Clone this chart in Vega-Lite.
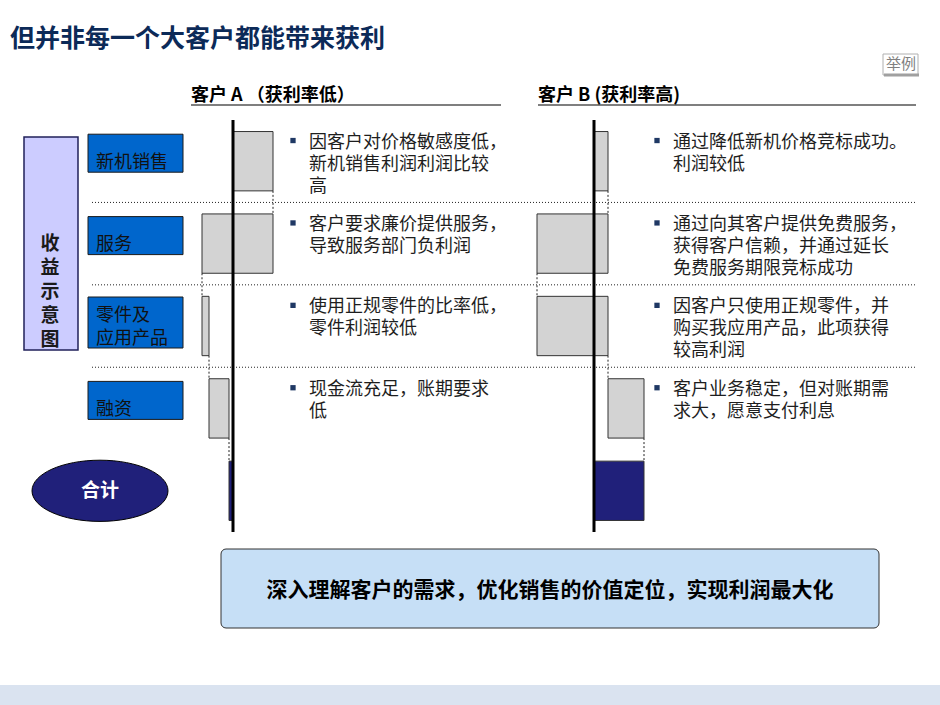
{
  "$schema": "https://vega.github.io/schema/vega-lite/v6.json",
  "width": 940,
  "height": 705,
  "autosize": {"type": "none"},
  "padding": 0,
  "background": "white",
  "config": {"view": {"stroke": null}, "font": "Noto Sans CJK SC", "text": {"font": "Noto Sans CJK SC"}},
  "datasets": {
    "rows": [
      {"item": "新机销售", "label": ["新机销售"]},
      {"item": "服务", "label": ["服务"]},
      {"item": "零件及应用产品", "label": ["零件及", "应用产品"]},
      {"item": "融资", "label": ["融资"]},
      {"item": "合计", "label": ["合计"]}
    ],
    "steps": [
      {"customer": "A", "item": "新机销售", "start": 0, "end": 40, "next": "服务", "kind": "step", "note": ["因客户对价格敏感度低，", "新机销售利润利润比较", "高"]},
      {"customer": "A", "item": "服务", "start": 40, "end": -31, "next": "零件及应用产品", "kind": "step", "note": ["客户要求廉价提供服务，", "导致服务部门负利润"]},
      {"customer": "A", "item": "零件及应用产品", "start": -31, "end": -24, "next": "融资", "kind": "step", "note": ["使用正规零件的比率低，", "零件利润较低"]},
      {"customer": "A", "item": "融资", "start": -24, "end": -4, "next": "合计", "kind": "step", "note": ["现金流充足，账期要求", "低"]},
      {"customer": "A", "item": "合计", "start": 0, "end": -4, "next": null, "kind": "total", "note": null},
      {"customer": "B", "item": "新机销售", "start": 0, "end": 14, "next": "服务", "kind": "step", "note": ["通过降低新机价格竞标成功。", "利润较低"]},
      {"customer": "B", "item": "服务", "start": 14, "end": -57, "next": "零件及应用产品", "kind": "step", "note": ["通过向其客户提供免费服务，", "获得客户信赖，并通过延长", "免费服务期限竞标成功"]},
      {"customer": "B", "item": "零件及应用产品", "start": -57, "end": 14, "next": "融资", "kind": "step", "note": ["因客户只使用正规零件，并", "购买我应用产品，此项获得", "较高利润"]},
      {"customer": "B", "item": "融资", "start": 14, "end": 50, "next": "合计", "kind": "step", "note": ["客户业务稳定，但对账期需", "求大，愿意支付利息"]},
      {"customer": "B", "item": "合计", "start": 0, "end": 50, "next": null, "kind": "total", "note": null}
    ]
  },
  "resolve": {"scale": {"x": "independent", "y": "shared", "color": "shared"}},
  "layer": [
    {
      "data": {"values": [{}]},
      "mark": {"type": "rect", "color": "#DAE3F0"},
      "encoding": {"x": {"value": 0}, "x2": {"value": 940}, "y": {"value": 685}, "y2": {"value": 705}}
    },
    {
      "data": {"values": [{}]},
      "mark": {"type": "text", "text": "但并非每一个大客户都能带来获利", "align": "left", "baseline": "middle", "fontSize": 25, "fontWeight": "bold", "color": "#0C2A58"},
      "encoding": {"x": {"value": 10}, "y": {"value": 39}}
    },
    {
      "data": {"values": [{}]},
      "mark": {"type": "rect", "fill": "white", "stroke": "#B0B0B0", "strokeWidth": 1},
      "encoding": {"x": {"value": 883}, "x2": {"value": 918}, "y": {"value": 54}, "y2": {"value": 75}}
    },
    {
      "data": {"values": [{}]},
      "mark": {"type": "rule", "color": "#A0A0A0", "strokeWidth": 3},
      "encoding": {"x": {"value": 884}, "x2": {"value": 919}, "y": {"value": 75}}
    },
    {
      "data": {"values": [{}]},
      "mark": {"type": "text", "text": "举例", "align": "center", "baseline": "middle", "fontSize": 15, "color": "#7F7F7F"},
      "encoding": {"x": {"value": 901}, "y": {"value": 64}}
    },
    {
      "data": {"values": [{}]},
      "mark": {"type": "text", "text": "客户 A （获利率低）", "align": "left", "baseline": "middle", "fontSize": 18, "fontWeight": "bold", "color": "#000000"},
      "encoding": {"x": {"value": 191}, "y": {"value": 96}}
    },
    {
      "data": {"values": [{}]},
      "mark": {"type": "rule", "color": "#000000", "strokeWidth": 1.2},
      "encoding": {"x": {"value": 191}, "x2": {"value": 501}, "y": {"value": 105}}
    },
    {
      "data": {"values": [{}]},
      "mark": {"type": "text", "text": "客户 B (获利率高)", "align": "left", "baseline": "middle", "fontSize": 18, "fontWeight": "bold", "color": "#000000"},
      "encoding": {"x": {"value": 538}, "y": {"value": 96}}
    },
    {
      "data": {"values": [{}]},
      "mark": {"type": "rule", "color": "#000000", "strokeWidth": 1.2},
      "encoding": {"x": {"value": 538}, "x2": {"value": 916}, "y": {"value": 105}}
    },
    {
      "data": {"values": [{}]},
      "mark": {"type": "rect", "fill": "#CCCCFF", "stroke": "#20205A", "strokeWidth": 1.5},
      "encoding": {"x": {"value": 24}, "x2": {"value": 78}, "y": {"value": 137}, "y2": {"value": 350}}
    },
    {
      "data": {"values": [{}]},
      "mark": {"type": "text", "text": ["收", "益", "示", "意", "图"], "align": "center", "baseline": "middle", "fontSize": 19, "fontWeight": "bold", "lineHeight": 24, "color": "#1A1A1A"},
      "encoding": {"x": {"value": 50}, "y": {"value": 244}}
    },
    {
      "data": {"name": "rows"},
      "transform": [{"filter": "datum.item === '新机销售' || datum.item === '服务' || datum.item === '融资'"}],
      "mark": {"type": "bar", "fill": "#0066CC", "stroke": "#1A1A1A", "strokeWidth": 1, "height": 38, "yOffset": -8},
      "encoding": {
        "x": {"value": 88}, "x2": {"value": 183},
        "y": {"field": "item", "type": "nominal", "axis": null, "scale": {"type": "band", "domain": ["新机销售", "服务", "零件及应用产品", "融资", "合计"], "range": [120, 532], "paddingInner": 0.28, "paddingOuter": 0.14}}
      }
    },
    {
      "data": {"name": "rows"},
      "transform": [{"filter": "datum.item === '零件及应用产品'"}],
      "mark": {"type": "bar", "fill": "#0066CC", "stroke": "#1A1A1A", "strokeWidth": 1, "height": 51, "yOffset": -3.5},
      "encoding": {
        "x": {"value": 88}, "x2": {"value": 183},
        "y": {"field": "item", "type": "nominal", "axis": null, "scale": {"type": "band", "domain": ["新机销售", "服务", "零件及应用产品", "融资", "合计"], "range": [120, 532], "paddingInner": 0.28, "paddingOuter": 0.14}}
      }
    },
    {
      "data": {"name": "rows"},
      "transform": [{"filter": "datum.item === '新机销售' || datum.item === '服务' || datum.item === '融资'"}],
      "mark": {"type": "text", "align": "left", "baseline": "middle", "fontSize": 18, "lineHeight": 23, "color": "#111111", "yOffset": 1.5},
      "encoding": {
        "x": {"value": 96},
        "y": {"field": "item", "type": "nominal", "axis": null, "scale": {"type": "band", "domain": ["新机销售", "服务", "零件及应用产品", "融资", "合计"], "range": [120, 532], "paddingInner": 0.28, "paddingOuter": 0.14}},
        "text": {"field": "label"}
      }
    },
    {
      "data": {"name": "rows"},
      "transform": [{"filter": "datum.item === '零件及应用产品'"}],
      "mark": {"type": "text", "align": "left", "baseline": "middle", "fontSize": 18, "lineHeight": 23, "color": "#111111", "yOffset": -10},
      "encoding": {
        "x": {"value": 96},
        "y": {"field": "item", "type": "nominal", "axis": null, "scale": {"type": "band", "domain": ["新机销售", "服务", "零件及应用产品", "融资", "合计"], "range": [120, 532], "paddingInner": 0.28, "paddingOuter": 0.14}},
        "text": {"field": "label"}
      }
    },
    {
      "data": {"name": "rows"},
      "transform": [{"filter": "datum.item === '合计'"}],
      "mark": {"type": "point", "shape": "M -1 0 A 1 0.45 0 1 0 1 0 A 1 0.45 0 1 0 -1 0 Z", "size": 18496, "filled": true, "fill": "#20207A", "stroke": "#000000", "strokeWidth": 1, "opacity": 1},
      "encoding": {
        "x": {"value": 100},
        "y": {"field": "item", "type": "nominal", "axis": null, "scale": {"type": "band", "domain": ["新机销售", "服务", "零件及应用产品", "融资", "合计"], "range": [120, 532], "paddingInner": 0.28, "paddingOuter": 0.14}}
      }
    },
    {
      "data": {"name": "rows"},
      "transform": [{"filter": "datum.item === '合计'"}],
      "mark": {"type": "text", "align": "center", "baseline": "middle", "fontSize": 19, "fontWeight": "bold", "color": "#FFFFFF"},
      "encoding": {
        "x": {"value": 100},
        "y": {"field": "item", "type": "nominal", "axis": null, "scale": {"type": "band", "domain": ["新机销售", "服务", "零件及应用产品", "融资", "合计"], "range": [120, 532], "paddingInner": 0.28, "paddingOuter": 0.14}},
        "text": {"field": "label"}
      }
    },
    {
      "data": {"name": "rows"},
      "transform": [{"filter": "datum.item === '服务' || datum.item === '零件及应用产品' || datum.item === '融资'"}],
      "mark": {"type": "rule", "color": "#222222", "strokeWidth": 1, "strokeDash": [1, 2], "yOffset": -11.5},
      "encoding": {
        "x": {"value": 92}, "x2": {"value": 915},
        "y": {"field": "item", "type": "nominal", "bandPosition": 0, "axis": null, "scale": {"type": "band", "domain": ["新机销售", "服务", "零件及应用产品", "融资", "合计"], "range": [120, 532], "paddingInner": 0.28, "paddingOuter": 0.14}}
      }
    },
    {
      "data": {"name": "steps"},
      "transform": [{"filter": "datum.customer === 'A'"}],
      "layer": [
        {
          "mark": {"type": "bar", "stroke": "#333333", "strokeWidth": 1},
          "encoding": {
            "x": {"field": "start", "type": "quantitative", "axis": null, "scale": {"domain": [-233, 707], "range": [0, 940], "nice": false, "zero": false}},
            "x2": {"field": "end"},
            "y": {"field": "item", "type": "nominal", "axis": null, "scale": {"type": "band", "domain": ["新机销售", "服务", "零件及应用产品", "融资", "合计"], "range": [120, 532], "paddingInner": 0.28, "paddingOuter": 0.14}},
            "color": {"field": "kind", "type": "nominal", "legend": null, "scale": {"domain": ["step", "total"], "range": ["#D3D3D3", "#20207A"]}}
          }
        },
        {
          "transform": [{"filter": "datum.next != null"}],
          "mark": {"type": "rule", "color": "#222222", "strokeWidth": 1, "strokeDash": [2, 2]},
          "encoding": {
            "x": {"field": "end", "type": "quantitative"},
            "y": {"field": "item", "type": "nominal", "bandPosition": 1},
            "y2": {"field": "next", "bandPosition": 0}
          }
        },
        {
          "data": {"values": [{}]},
          "mark": {"type": "rule", "color": "#000000", "strokeWidth": 3},
          "encoding": {"x": {"datum": 0, "type": "quantitative"}, "y": {"value": 120}, "y2": {"value": 532}}
        },
        {
          "transform": [{"filter": "datum.note != null"}],
          "mark": {"type": "point", "shape": "square", "filled": true, "size": 28, "color": "#1F3864", "opacity": 1, "yOffset": 9},
          "encoding": {
            "x": {"datum": 60, "type": "quantitative"},
            "y": {"field": "item", "type": "nominal", "bandPosition": 0}
          }
        },
        {
          "transform": [{"filter": "datum.note != null"}],
          "mark": {"type": "text", "align": "left", "baseline": "top", "fontSize": 18, "lineHeight": 22, "color": "#1E1E1E", "yOffset": 2},
          "encoding": {
            "x": {"datum": 76, "type": "quantitative"},
            "y": {"field": "item", "type": "nominal", "bandPosition": 0},
            "text": {"field": "note"}
          }
        }
      ]
    },
    {
      "data": {"name": "steps"},
      "transform": [{"filter": "datum.customer === 'B'"}],
      "layer": [
        {
          "mark": {"type": "bar", "stroke": "#333333", "strokeWidth": 1},
          "encoding": {
            "x": {"field": "start", "type": "quantitative", "axis": null, "scale": {"domain": [-594, 346], "range": [0, 940], "nice": false, "zero": false}},
            "x2": {"field": "end"},
            "y": {"field": "item", "type": "nominal", "axis": null, "scale": {"type": "band", "domain": ["新机销售", "服务", "零件及应用产品", "融资", "合计"], "range": [120, 532], "paddingInner": 0.28, "paddingOuter": 0.14}},
            "color": {"field": "kind", "type": "nominal", "legend": null, "scale": {"domain": ["step", "total"], "range": ["#D3D3D3", "#20207A"]}}
          }
        },
        {
          "transform": [{"filter": "datum.next != null"}],
          "mark": {"type": "rule", "color": "#222222", "strokeWidth": 1, "strokeDash": [2, 2]},
          "encoding": {
            "x": {"field": "end", "type": "quantitative"},
            "y": {"field": "item", "type": "nominal", "bandPosition": 1},
            "y2": {"field": "next", "bandPosition": 0}
          }
        },
        {
          "data": {"values": [{}]},
          "mark": {"type": "rule", "color": "#000000", "strokeWidth": 3},
          "encoding": {"x": {"datum": 0, "type": "quantitative"}, "y": {"value": 120}, "y2": {"value": 532}}
        },
        {
          "transform": [{"filter": "datum.note != null"}],
          "mark": {"type": "point", "shape": "square", "filled": true, "size": 28, "color": "#1F3864", "opacity": 1, "yOffset": 9},
          "encoding": {
            "x": {"datum": 63, "type": "quantitative"},
            "y": {"field": "item", "type": "nominal", "bandPosition": 0}
          }
        },
        {
          "transform": [{"filter": "datum.note != null"}],
          "mark": {"type": "text", "align": "left", "baseline": "top", "fontSize": 18, "lineHeight": 22, "color": "#1E1E1E", "yOffset": 2},
          "encoding": {
            "x": {"datum": 79, "type": "quantitative"},
            "y": {"field": "item", "type": "nominal", "bandPosition": 0},
            "text": {"field": "note"}
          }
        }
      ]
    },
    {
      "data": {"values": [{}]},
      "mark": {"type": "rect", "fill": "#C6DFF6", "stroke": "#333333", "strokeWidth": 1, "cornerRadius": 5},
      "encoding": {"x": {"value": 221}, "x2": {"value": 879}, "y": {"value": 549}, "y2": {"value": 628}}
    },
    {
      "data": {"values": [{}]},
      "mark": {"type": "text", "text": "深入理解客户的需求，优化销售的价值定位，实现利润最大化", "align": "center", "baseline": "middle", "fontSize": 21, "fontWeight": "bold", "color": "#000000"},
      "encoding": {"x": {"value": 550}, "y": {"value": 591}}
    }
  ]
}
